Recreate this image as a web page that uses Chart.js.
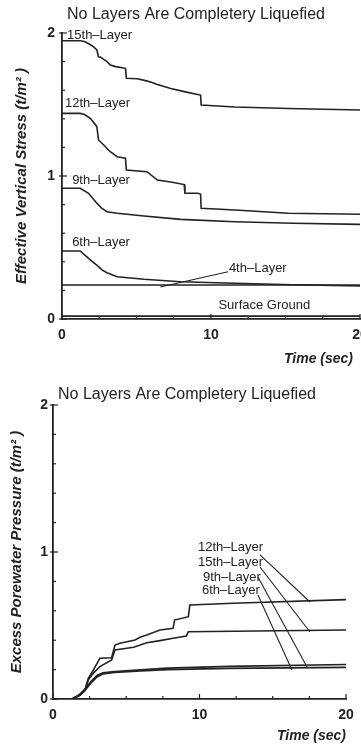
<!DOCTYPE html>
<html><head><meta charset="utf-8">
<script src="https://cdn.jsdelivr.net/npm/chart.js@4.4.1/dist/chart.umd.min.js"></script>
<style>
html,body{margin:0;padding:0;background:#fff;width:361px;height:747px;overflow:hidden}
.box{position:absolute;left:0;width:361px}
#b1{top:0;height:370px}
#b2{top:370px;height:377px}
</style></head><body>
<div class="box" id="b1"><canvas id="c1"></canvas></div>
<div class="box" id="b2"><canvas id="c2"></canvas></div>
<script>
const FONT = '"Liberation Sans", Arial, Helvetica, sans-serif';
const INK = '#222';

// ---- tick labels ----
const xTickLabels = [0, 10, 20];
const yTickLabels = [0, 1, 2];

// ---- top chart: effective vertical stress (t/m2) vs time (sec) ----
const l15Time   = [0, 1.22, 1.5, 1.8, 2.1, 2.34, 2.45, 2.6, 2.8, 3.02, 3.24, 3.6, 4.26, 4.32, 5.05, 5.6, 6.0, 6.4, 7.3, 8.2, 9.1, 9.3, 9.34, 11.6, 15.2, 20];
const l15Stress = [1.946, 1.946, 1.94, 1.925, 1.905, 1.881, 1.834, 1.83, 1.815, 1.80, 1.776, 1.765, 1.753, 1.683, 1.68, 1.667, 1.655, 1.64, 1.612, 1.59, 1.57, 1.566, 1.497, 1.482, 1.472, 1.462];

const l12Time   = [0, 1.22, 1.5, 1.9, 2.34, 2.45, 2.8, 3.24, 3.7, 4.26, 4.32, 5.7, 6.4, 7.3, 8.2, 8.25, 9.1, 9.3, 9.34, 11.6, 15.2, 20];
const l12Stress = [1.438, 1.438, 1.43, 1.403, 1.345, 1.252, 1.217, 1.17, 1.135, 1.124, 1.042, 1.03, 0.972, 0.958, 0.94, 0.879, 0.879, 0.874, 0.774, 0.762, 0.739, 0.732];

const l9Time    = [0, 1.22, 1.78, 2.34, 2.68, 3.02, 3.7, 5.5, 7.97, 11.6, 15.5, 20];
const l9Stress  = [0.914, 0.914, 0.879, 0.809, 0.774, 0.75, 0.739, 0.72, 0.697, 0.68, 0.67, 0.662];

const l6Time    = [0, 1.22, 1.78, 2.45, 2.68, 3.02, 3.7, 5.5, 7.97, 11.6, 15.5, 20];
const l6Stress  = [0.476, 0.476, 0.424, 0.366, 0.343, 0.324, 0.296, 0.278, 0.261, 0.25, 0.24, 0.231];

const l4Time    = [0, 20];
const l4Stress  = [0.238, 0.238];

const surfTime   = [0, 20];
const surfStress = [0.02, 0.02];

// ---- bottom chart: excess porewater pressure (t/m2) vs time (sec) ----
const p12Time = [0, 1.3, 1.84, 2.18, 2.41, 2.75, 3.2, 4.0, 4.23, 4.57, 5.6, 5.94, 6.4, 7.3, 8.2, 8.3, 9.24, 9.34, 12.3, 20];
const p12Pres = [0, 0, 0.027, 0.061, 0.14, 0.197, 0.277, 0.281, 0.367, 0.379, 0.401, 0.42, 0.435, 0.469, 0.481, 0.537, 0.56, 0.639, 0.651, 0.676];

const p15Time = [0, 1.3, 1.84, 2.18, 2.41, 2.75, 3.2, 4.0, 4.23, 5.5, 6.4, 7.3, 8.2, 9.1, 9.24, 20];
const p15Pres = [0, 0, 0.025, 0.058, 0.13, 0.175, 0.22, 0.265, 0.333, 0.352, 0.383, 0.397, 0.413, 0.429, 0.458, 0.469];

const p9Time  = [0, 1.3, 1.8, 2.2, 2.6, 3.0, 3.4, 4.2, 6.0, 7.8, 12, 20];
const p9Pres  = [0, 0, 0.03, 0.07, 0.12, 0.16, 0.178, 0.186, 0.198, 0.21, 0.222, 0.235];

const p6Time  = [0, 1.3, 1.8, 2.2, 2.6, 3.0, 3.4, 4.2, 6.0, 7.8, 12, 20];
const p6Pres  = [0, 0, 0.025, 0.06, 0.11, 0.15, 0.17, 0.18, 0.19, 0.2, 0.208, 0.215];

// ---- annotation text (anchored in data units) ----
const topNotes = [
  {text: '15th\u2013Layer', t: 0.34, v: 1.986},
  {text: '12th\u2013Layer', t: 0.2, v: 1.51},
  {text: '9th\u2013Layer', t: 0.68, v: 0.972},
  {text: '6th\u2013Layer', t: 0.68, v: 0.538},
  {text: '4th\u2013Layer', t: 11.2, v: 0.357},
  {text: 'Surface Ground', t: 10.5, v: 0.098}
];
const topLeaders = [[11.15, 0.33, 6.6, 0.224]];
const botNotes = [
  {text: '12th\u2013Layer', t: 9.9, v: 1.034},
  {text: '15th\u2013Layer', t: 9.9, v: 0.932},
  {text: '9th\u2013Layer', t: 10.24, v: 0.83},
  {text: '6th\u2013Layer', t: 10.17, v: 0.741}
];
const botLeaders = [
  [14.13, 0.98, 17.54, 0.66],
  [14.13, 0.898, 17.54, 0.456],
  [13.99, 0.83, 17.34, 0.218],
  [13.99, 0.707, 16.31, 0.197]
];

function pts(ts, vs) { return ts.map((t, i) => ({x: t, y: vs[i]})); }
function ds(label, ts, vs) {
  return {label, data: pts(ts, vs), borderColor: INK, borderWidth: 1.6,
          pointRadius: 0, fill: false, tension: 0};
}

function makeDecor(conf) {
  return {
    id: 'decor',
    afterDraw(chart) {
      const {ctx, chartArea: a, scales: {x, y}} = chart;
      ctx.save();
      ctx.strokeStyle = INK;
      ctx.lineWidth = 1.2;
      for (let i = 0; i <= 8; i++) {
        const t = i * 2.5, px = x.getPixelForValue(t);
        const major = (i % 4 === 0);
        ctx.beginPath(); ctx.moveTo(px, a.bottom); ctx.lineTo(px, a.bottom - (major ? 5 : 3)); ctx.stroke();
      }
      for (let i = 0; i <= 10; i++) {
        const v = i * 0.2, py = y.getPixelForValue(v);
        const major = (i % 5 === 0);
        ctx.beginPath(); ctx.moveTo(a.left - (major ? 3 : 0), py); ctx.lineTo(a.left + (major ? 5 : 3), py); ctx.stroke();
      }
      ctx.lineWidth = 1.1;
      conf.leaders.forEach(l => {
        ctx.beginPath();
        ctx.moveTo(x.getPixelForValue(l[0]), y.getPixelForValue(l[1]));
        ctx.lineTo(x.getPixelForValue(l[2]), y.getPixelForValue(l[3]));
        ctx.stroke();
      });
      ctx.fillStyle = INK;
      ctx.textBaseline = 'middle';
      ctx.textAlign = 'left';
      ctx.font = '13px ' + FONT;
      conf.notes.forEach(n => ctx.fillText(n.text, x.getPixelForValue(n.t), y.getPixelForValue(n.v)));
      ctx.textAlign = 'center';
      ctx.font = '16px ' + FONT;
      ctx.fillText(conf.title, conf.titleX, conf.titleY);
      ctx.restore();
    }
  };
}

function makeChart(id, datasets, conf) {
  return new Chart(document.getElementById(id), {
    type: 'line',
    data: {datasets},
    plugins: [makeDecor(conf)],
    options: {
      responsive: true, maintainAspectRatio: false, animation: false,
      layout: {padding: {top: conf.padTop, right: conf.padRight, left: 0, bottom: 0}},
      plugins: {legend: {display: false}, tooltip: {enabled: false}, title: {display: false}},
      scales: {
        x: {
          type: 'linear', min: 0, max: 20,
          afterBuildTicks: s => { s.ticks = xTickLabels.map(v => ({value: v})); },
          ticks: {color: INK, font: {family: FONT, size: 14, weight: 'bold'}, padding: 8, maxRotation: 0, autoSkip: false},
          grid: {display: false, drawTicks: false},
          border: {display: true, color: INK, width: 1.8},
          title: {display: true, text: conf.xTitle, align: 'end', color: INK,
                  font: {family: FONT, size: 14, weight: 'bold', style: 'italic'}, padding: {top: 0, bottom: 2}},
          afterFit: s => { s.height = conf.xHeight; s.paddingLeft = 0; s.paddingRight = 0; }
        },
        y: {
          type: 'linear', min: 0, max: 2,
          afterBuildTicks: s => { s.ticks = yTickLabels.map(v => ({value: v})); },
          ticks: {color: INK, font: {family: FONT, size: 14, weight: 'bold'}, padding: conf.yPad},
          grid: {display: false, drawTicks: false},
          border: {display: true, color: INK, width: 1.8},
          title: {display: true, text: conf.yTitle, color: INK,
                  font: {family: FONT, size: 15, weight: 'bold', style: 'italic'}, padding: {top: conf.yTitlePad, bottom: 0}},
          afterFit: s => { s.width = conf.yWidth; s.paddingTop = 0; s.paddingBottom = 0; }
        }
      }
    }
  });
}

makeChart('c1', [
  ds('15th-Layer', l15Time, l15Stress),
  ds('12th-Layer', l12Time, l12Stress),
  ds('9th-Layer', l9Time, l9Stress),
  ds('6th-Layer', l6Time, l6Stress),
  ds('4th-Layer', l4Time, l4Stress),
  ds('Surface Ground', surfTime, surfStress)
], {
  title: 'No Layers Are Completery Liquefied', titleX: 196, titleY: 15,
  notes: topNotes, leaders: topLeaders,
  padTop: 33, padRight: 1, xHeight: 51, yWidth: 62, yPad: 7, yTitlePad: 13,
  xTitle: 'Time (sec)\u2002',
  yTitle: 'Effective Vertical Stress (t/m\u00B2 )'
});

makeChart('c2', [
  ds('12th-Layer', p12Time, p12Pres),
  ds('15th-Layer', p15Time, p15Pres),
  ds('9th-Layer', p9Time, p9Pres),
  ds('6th-Layer', p6Time, p6Pres)
], {
  title: 'No Layers Are Completery Liquefied', titleX: 187, titleY: 25,
  notes: botNotes, leaders: botLeaders,
  padTop: 35, padRight: 15, xHeight: 48, yWidth: 53, yPad: 5, yTitlePad: 8,
  xTitle: 'Time (sec)',
  yTitle: 'Excess Porewater Pressure (t/m\u00B2 )'
});
</script>
</body></html>
